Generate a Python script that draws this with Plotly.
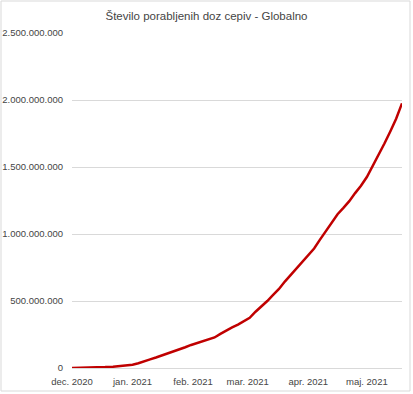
import plotly.graph_objects as go

dates = [
    "2020-12-01", "2020-12-06", "2020-12-11", "2020-12-15", "2020-12-18", "2020-12-22",
    "2020-12-25", "2020-12-29", "2021-01-01", "2021-01-04", "2021-01-07", "2021-01-10",
    "2021-01-13", "2021-01-16", "2021-01-19", "2021-01-22", "2021-01-25", "2021-01-28",
    "2021-01-31", "2021-02-03", "2021-02-06", "2021-02-09", "2021-02-12", "2021-02-15",
    "2021-02-18", "2021-02-21", "2021-02-24", "2021-02-27", "2021-03-02", "2021-03-05",
    "2021-03-08", "2021-03-11", "2021-03-14", "2021-03-17", "2021-03-20", "2021-03-23",
    "2021-03-26", "2021-03-29", "2021-04-01", "2021-04-04", "2021-04-07", "2021-04-10",
    "2021-04-13", "2021-04-16", "2021-04-19", "2021-04-22", "2021-04-25", "2021-04-28",
    "2021-05-01", "2021-05-04", "2021-05-07", "2021-05-10", "2021-05-13", "2021-05-16",
    "2021-05-19",
]
doses_millions = [
    0, 0.5, 2, 5, 7, 10,
    14, 19, 25, 36, 48, 64,
    78, 93, 106, 122, 136, 155,
    172, 186, 200, 213, 228, 255,
    282, 303, 324, 348, 375, 420,
    458, 500, 545, 590, 645, 695,
    745, 798, 845, 892, 958, 1020,
    1085, 1148, 1195, 1245, 1305, 1360,
    1425, 1505, 1590, 1675, 1765, 1860,
    1975,
]
doses = [v * 1_000_000 for v in doses_millions]

month_ticks = ["2020-12-01", "2021-01-01", "2021-02-01", "2021-03-01", "2021-04-01", "2021-05-01"]
month_labels = ["dec. 2020", "jan. 2021", "feb. 2021", "mar. 2021", "apr. 2021", "maj. 2021"]

y_ticks = [0, 500_000_000, 1_000_000_000, 1_500_000_000, 2_000_000_000, 2_500_000_000]
y_labels = ["0", "500.000.000", "1.000.000.000", "1.500.000.000", "2.000.000.000", "2.500.000.000"]

title_text = "Število porabljenih doz cepiv - Globalno"

W, H = 413, 394
L, R, T, B = 72, 11, 33, 26
pw, ph = W - L - R, H - T - B

fig = go.Figure()
fig.add_trace(go.Scatter(
    x=dates, y=doses, mode="lines",
    line=dict(color="#C00000", width=2.5),
    hoverinfo="x+y",
))

font_family = "Liberation Sans, Arial, sans-serif"
text_color = "#454545"
fig.update_layout(
    width=W, height=H,
    margin=dict(l=L, r=R, t=T, b=B, autoexpand=False),
    paper_bgcolor="white", plot_bgcolor="white",
    showlegend=False,
    title=dict(text=title_text, x=0.5, xanchor="center", xref="container",
               y=1 - 16 / H, yref="container", yanchor="middle",
               font=dict(family=font_family, size=11.5, color=text_color)),
    font=dict(family=font_family, color=text_color),
    xaxis=dict(
        type="date", range=["2020-12-01", "2021-05-19"],
        tickvals=month_ticks, ticktext=month_labels,
        showgrid=False, zeroline=False, showline=True, linecolor="#d9d9d9", linewidth=1,
        ticks="", tickfont=dict(size=9.5, color=text_color),
        ticklabelstandoff=5, automargin=False,
    ),
    yaxis=dict(
        range=[0, 2_500_000_000],
        tickvals=y_ticks, ticktext=y_labels,
        showgrid=True, gridcolor="#d9d9d9", gridwidth=1,
        zeroline=False, showline=False,
        ticks="", tickfont=dict(size=9.5, color=text_color),
        ticklabelstandoff=8, automargin=False,
    ),
    shapes=[dict(
        type="rect", xref="paper", yref="paper",
        x0=(1 - L) / pw, x1=(410 - L) / pw,
        y0=(H - B - 391) / ph, y1=(H - B - 1) / ph,
        line=dict(color="#d9d9d9", width=1), fillcolor="rgba(0,0,0,0)",
        layer="above",
    )],
)

fig.write_html(
    "out.html",
    config={"displayModeBar": False},
    post_script="document.body.style.margin='0';document.body.style.overflow='hidden';",
)
